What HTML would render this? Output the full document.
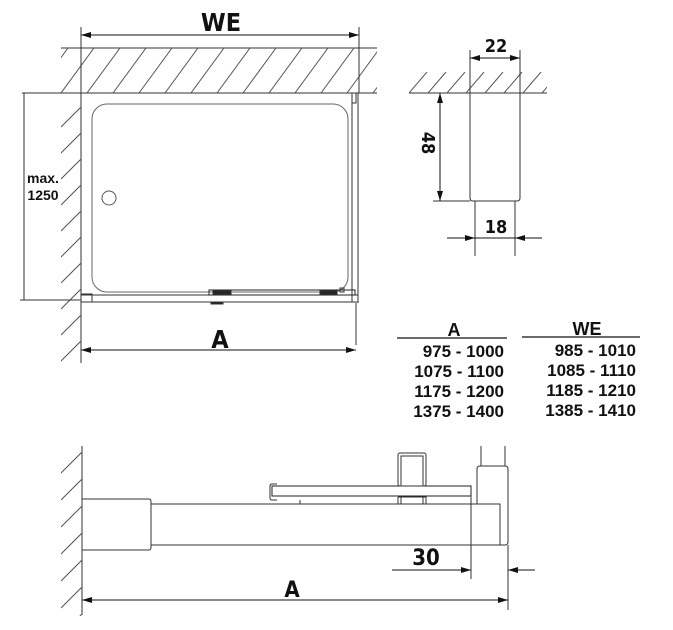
<!DOCTYPE html>
<html><head><meta charset="utf-8"><style>
html,body{margin:0;padding:0;background:#fff;}
svg{display:block;}
text{font-family:"Liberation Sans",sans-serif;fill:#111;}
.c{font-family:"DejaVu Sans Condensed","Liberation Sans",sans-serif;}
</style></head><body>
<svg width="673" height="630" viewBox="0 0 673 630" xmlns="http://www.w3.org/2000/svg">
<defs>
<marker id="ar" viewBox="0 0 10 6" refX="10" refY="3" markerWidth="16" markerHeight="6" markerUnits="userSpaceOnUse" orient="auto-start-reverse"><path d="M0,0L10,3L0,6z" fill="#111"/></marker>
<clipPath id="ctop"><rect x="61" y="48" width="316" height="45"/></clipPath>
<clipPath id="cleft"><rect x="61" y="93" width="20" height="270"/></clipPath>
<clipPath id="csm"><rect x="409" y="72" width="138" height="21"/></clipPath>
<clipPath id="cbl"><rect x="61" y="446" width="21" height="170"/></clipPath>
</defs>
<g stroke="#333" stroke-width="1" fill="none">
<line x1="61" y1="48" x2="377" y2="48"/>
<line x1="22" y1="93" x2="377" y2="93"/>
<g clip-path="url(#ctop)" stroke="#555">
<path d="M35,93L68,48 M61,93L94,48 M87,93L120,48 M113,93L146,48 M139,93L172,48 M165,93L198,48 M191,93L224,48 M217,93L250,48 M243,93L276,48 M269,93L302,48 M295,93L328,48 M321,93L354,48 M347,93L380,48 M373,93L406,48"/>
</g>
<line x1="81" y1="27" x2="81" y2="363"/>
<line x1="359" y1="27" x2="359" y2="93"/>
<g clip-path="url(#cleft)" stroke="#555">
<path d="M61,127L81,107 M61,153L81,133 M61,179L81,159 M61,205L81,185 M61,231L81,211 M61,257L81,237 M61,283L81,263 M61,309L81,289 M61,335L81,315 M61,361L81,341 M61,387L81,367"/>
</g>
<line x1="24" y1="93" x2="24" y2="300"/>
<line x1="20" y1="300" x2="81" y2="300"/>
<rect x="92" y="104" width="256" height="188" rx="15" stroke="#666"/>
<circle cx="109" cy="198" r="7" stroke="#555"/>
<line x1="81" y1="295" x2="358" y2="295"/>
<line x1="81" y1="302" x2="358" y2="302"/>
<rect x="81" y="294" width="11" height="8"/>
<line x1="352" y1="93" x2="352" y2="302"/>
<line x1="358" y1="93" x2="358" y2="303"/>
<rect x="352" y="93" width="4" height="10"/>
<rect x="209" y="290" width="146" height="5" stroke="#222"/>
<rect x="213" y="291" width="18" height="3" fill="#222"/>
<rect x="320" y="291" width="17" height="3" fill="#222"/>
<rect x="340" y="288" width="4" height="4"/>
<rect x="211" y="302" width="12" height="2" fill="#222"/>
<line x1="356" y1="303" x2="356" y2="345"/>
</g>
<g stroke="#111" stroke-width="1">
<line x1="81" y1="35" x2="359" y2="35" marker-start="url(#ar)" marker-end="url(#ar)"/>
<line x1="81" y1="350" x2="356" y2="350" marker-start="url(#ar)" marker-end="url(#ar)"/>
</g>
<text x="221" y="31" font-size="25" font-weight="bold" text-anchor="middle" class="c">WE</text>
<text x="220" y="348" font-size="25" font-weight="bold" text-anchor="middle" class="c">A</text>
<text x="43" y="183" font-size="14" font-weight="bold" text-anchor="middle">max.</text>
<text x="43" y="200" font-size="14" font-weight="bold" text-anchor="middle">1250</text>

<g stroke="#333" stroke-width="1" fill="none">
<line x1="409" y1="93" x2="547" y2="93"/>
<g clip-path="url(#csm)" stroke="#555"><path d="M409,93L427,72 M428,93L446,72 M447,93L465,72 M466,93L484,72 M485,93L503,72 M504,93L522,72 M523,93L541,72 M542,93L560,72"/></g>
<path d="M470,50V198Q470,201 473,201H517Q520,201 520,198V50"/>
<line x1="433" y1="201" x2="470" y2="201"/>
<line x1="475" y1="201" x2="475" y2="256"/>
<line x1="515" y1="201" x2="515" y2="256"/>
</g>
<g stroke="#111">
<line x1="470" y1="58" x2="520" y2="58" marker-start="url(#ar)" marker-end="url(#ar)"/>
<line x1="440" y1="93" x2="440" y2="201" marker-start="url(#ar)" marker-end="url(#ar)"/>
<line x1="447" y1="238" x2="475" y2="238" marker-end="url(#ar)"/>
<line x1="542" y1="238" x2="515" y2="238" marker-end="url(#ar)"/>
<line x1="475" y1="238" x2="515" y2="238"/>
</g>
<text x="496" y="52" font-size="18" font-weight="bold" text-anchor="middle" class="c">22</text>
<text x="496" y="233" font-size="18" font-weight="bold" text-anchor="middle" class="c">18</text>
<text x="0" y="0" font-size="18" font-weight="bold" text-anchor="middle" transform="translate(422,143) rotate(90)" class="c">48</text>

<g font-size="17" font-weight="bold">
<text x="454" y="336" text-anchor="middle" font-size="18">A</text>
<text x="587" y="335" text-anchor="middle" font-size="18">WE</text>
<text x="504" y="357" text-anchor="end">975 - 1000</text>
<text x="504" y="377" text-anchor="end">1075 - 1100</text>
<text x="504" y="397" text-anchor="end">1175 - 1200</text>
<text x="504" y="417" text-anchor="end">1375 - 1400</text>
<text x="636" y="356" text-anchor="end">985 - 1010</text>
<text x="636" y="376" text-anchor="end">1085 - 1110</text>
<text x="636" y="396" text-anchor="end">1185 - 1210</text>
<text x="636" y="416" text-anchor="end">1385 - 1410</text>
</g>
<line x1="397" y1="338" x2="507" y2="338" stroke="#111" stroke-width="1.2"/>
<line x1="522" y1="337" x2="640" y2="337" stroke="#111" stroke-width="1.2"/>

<g stroke="#333" stroke-width="1" fill="none">
<line x1="82" y1="446" x2="82" y2="615"/>
<g clip-path="url(#cbl)" stroke="#555"><path d="M61,473L82,452 M61,500L82,479 M61,527L82,506 M61,554L82,533 M61,581L82,560 M61,608L82,587 M61,635L82,614"/></g>
<path d="M82,499H149Q151,499 151,502V547Q151,550 149,550H82"/>
<path d="M151,504H500V545H151"/>
<path d="M481,446V466 M505,446V466"/>
<path d="M477,504V469Q477,466 480,466H505Q508,466 508,469V542Q508,545 505,545H500"/>
<rect x="272" y="486" width="199" height="10" stroke="#222"/>
<path d="M277,484H272Q270,484 270,486V498Q270,500 272,500H277" />
<rect x="398" y="453" width="28" height="33" rx="2"/>
<rect x="401" y="456" width="22" height="30"/>
<path d="M398,497H426V504 M398,497V504 M401,497V504 M423,497V504"/>
<line x1="300" y1="500" x2="300" y2="504"/>
<line x1="471" y1="496" x2="471" y2="579"/>
<line x1="508" y1="545" x2="508" y2="610"/>
</g>
<g stroke="#111">
<line x1="392" y1="570" x2="471" y2="570" marker-end="url(#ar)"/>
<line x1="535" y1="570" x2="508" y2="570" marker-end="url(#ar)"/>
<line x1="82" y1="600" x2="508" y2="600" marker-start="url(#ar)" marker-end="url(#ar)"/>
</g>
<text x="426" y="565" font-size="22" font-weight="bold" text-anchor="middle" class="c">30</text>
<text x="292" y="597" font-size="22" font-weight="bold" text-anchor="middle" class="c">A</text>
</svg>
</body></html>
